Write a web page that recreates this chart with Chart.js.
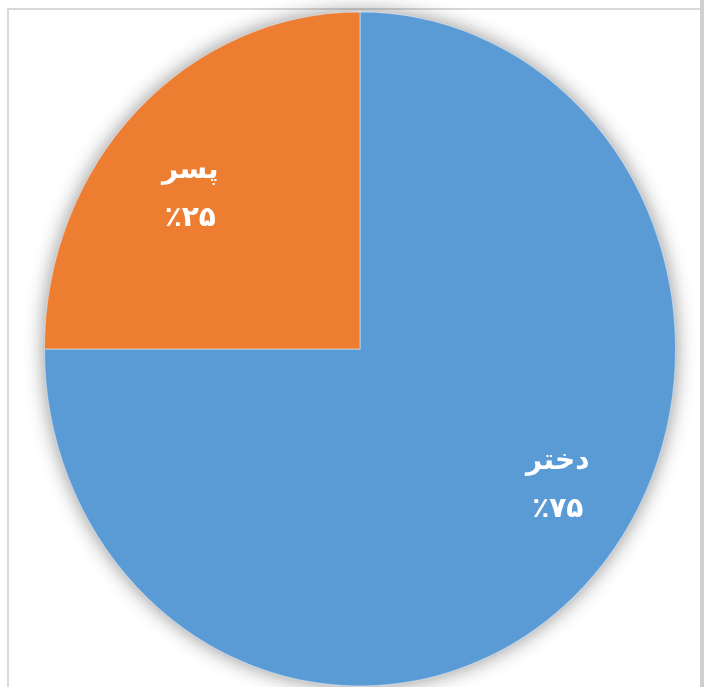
<!DOCTYPE html>
<html><head><meta charset="utf-8">
<script src="https://cdn.jsdelivr.net/npm/chart.js@4/dist/chart.umd.min.js"></script>
<style>html,body{margin:0;padding:0;background:#fff;} #wrap{position:relative;width:704px;height:687px;} canvas{display:block;}</style>
</head><body><div id="wrap"><canvas id="c" width="704" height="687"></canvas></div>
<script>
// ---- data ----
const categories = ['دختر', 'پسر'];
const values = [75, 25];
const percentLabels = ['٪۷۵', '٪۲۵'];

// ---- style ----
const colors = ['#5B9BD5', '#ED7D31'];
const SY = 1.068; // vertical stretch of the pie (reference pie is slightly elliptical)
const labelOffsets = [ {fx: 0.627, fy: 0.434}, {fx: -0.538, fy: -0.49} ];

const frame = {
  id: 'frame',
  beforeDraw(chart) {
    const ctx = chart.ctx;
    ctx.save();
    ctx.fillStyle = '#ffffff';
    ctx.fillRect(0, 0, 704, 687);
    ctx.fillStyle = '#d9d9d9';
    ctx.fillRect(7, 8, 693, 2);
    ctx.fillRect(7, 8, 2, 679);
    ctx.fillStyle = '#d0d0d0';
    ctx.fillRect(700, 0, 4, 687);
    ctx.restore();
  }
};

const ellipse = {
  id: 'ellipse',
  beforeDatasetsDraw(chart) {
    const a = chart.getDatasetMeta(0).data[0];
    const ctx = chart.ctx;
    ctx.save();
    ctx.translate(a.x, a.y);
    ctx.scale(1, SY);
    ctx.translate(-a.x, -a.y);
    ctx.save();
    ctx.shadowColor = 'rgba(0,0,0,0.45)';
    ctx.shadowBlur = 20;
    ctx.fillStyle = colors[0];
    ctx.beginPath();
    ctx.arc(a.x, a.y, a.outerRadius, 0, Math.PI * 2);
    ctx.fill();
    ctx.restore();
  },
  afterDatasetsDraw(chart) {
    chart.ctx.restore();
  }
};

const labels = {
  id: 'labels',
  afterDraw(chart) {
    const ctx = chart.ctx;
    const meta = chart.getDatasetMeta(0);
    ctx.save();
    ctx.fillStyle = '#ffffff';
    ctx.font = "bold 28px 'DejaVu Sans', sans-serif";
    ctx.textAlign = 'center';
    ctx.textBaseline = 'middle';
    meta.data.forEach((arc, i) => {
      const r = arc.outerRadius;
      const x = arc.x + labelOffsets[i].fx * r;
      const y = arc.y + labelOffsets[i].fy * r;
      ctx.direction = 'rtl';
      ctx.fillText(categories[i], x, y - 24);
      ctx.direction = 'ltr';
      ctx.fillText(percentLabels[i], x, y + 24);
    });
    ctx.restore();
  }
};

new Chart(document.getElementById('c'), {
  type: 'pie',
  data: {
    labels: categories,
    datasets: [{
      data: values,
      backgroundColor: colors,
      borderColor: 'rgba(255,255,255,0.45)',
      borderWidth: 1,
      clip: false
    }]
  },
  options: {
    responsive: false,
    animation: false,
    devicePixelRatio: 1,
    layout: { padding: { left: 44, right: 28, top: 33, bottom: 22 } },
    plugins: { legend: { display: false }, tooltip: { enabled: false } }
  },
  plugins: [frame, ellipse, labels]
});
</script>
</body></html>
